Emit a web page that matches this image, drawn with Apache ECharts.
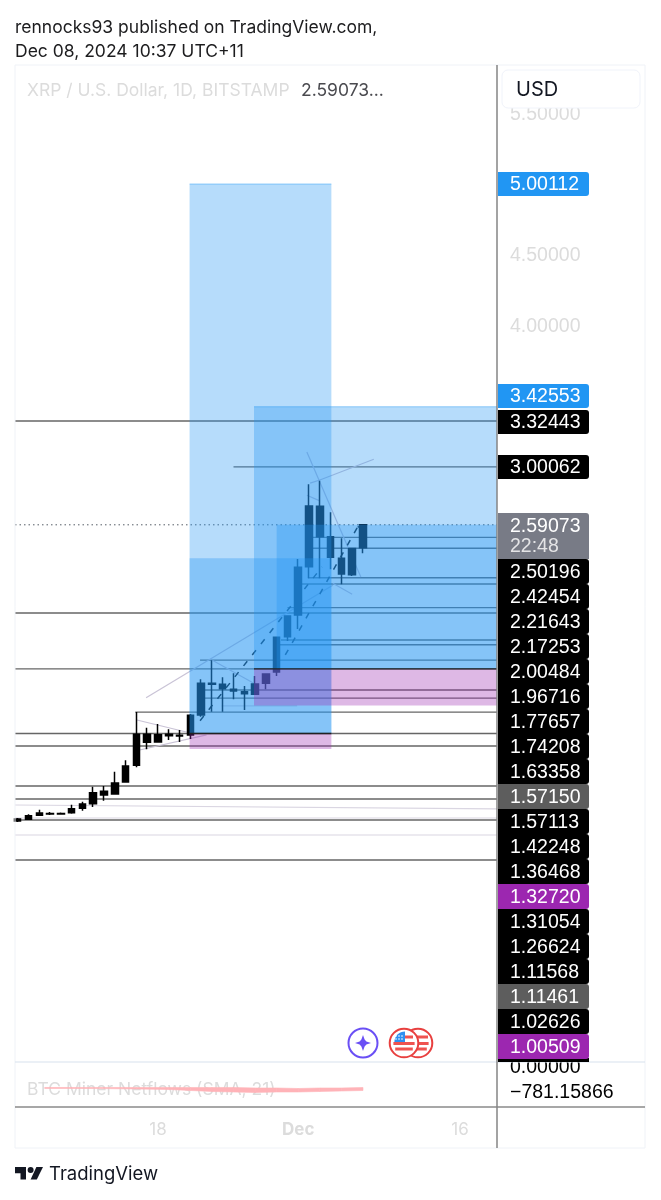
<!DOCTYPE html>
<html>
<head>
<meta charset="utf-8">
<title>XRP / U.S. Dollar</title>
<script src="https://cdn.jsdelivr.net/npm/echarts@6/dist/echarts.min.js"></script>
<style>
  html, body { margin: 0; padding: 0; background: #fff; }
  #chart { width: 661px; height: 1200px; }
</style>
</head>
<body>
<div id="chart"></div>
<script>
var DAY = 86400000;
var NOV18 = Date.UTC(2024, 10, 18);
function day(n) { return NOV18 + n * DAY; }

// daily candles, day number counted from 18 Nov
var candleDays = [-13,-12,-11,-10,-9,-8,-7,-6,-5,-4,-3,-2,-1,0,1,2,3,4,5,6,7,8,9,10,11,12,13,14,15,16,17,18,19];
var opens  = [0.496,0.508,0.537,0.545,0.545,0.554,0.586,0.618,0.680,0.687,0.772,0.890,1.109,1.054,1.099,1.097,1.104,1.246,1.470,1.463,1.427,1.410,1.392,1.470,1.550,1.799,1.953,2.294,2.507,2.507,2.243,2.238,2.429];
var closes = [0.510,0.533,0.553,0.549,0.549,0.583,0.616,0.696,0.706,0.765,0.885,1.109,1.052,1.106,1.109,1.103,1.243,1.470,1.463,1.432,1.415,1.396,1.465,1.536,1.795,1.946,2.290,2.724,2.722,2.361,2.354,2.424,2.59073];
var lows   = [0.489,0.503,0.531,0.538,0.540,0.547,0.569,0.595,0.640,0.682,0.767,0.876,1.003,1.052,1.069,1.055,1.076,1.234,1.269,1.269,1.357,1.281,1.387,1.427,1.521,1.769,1.854,2.212,2.212,2.276,2.170,2.228,2.390];
var highs  = [0.517,0.543,0.576,0.559,0.556,0.611,0.632,0.738,0.743,0.845,0.925,1.26624,1.156,1.182,1.144,1.139,1.252,1.498,1.63358,1.512,1.540,1.451,1.521,1.540,1.797,1.946,2.349,2.877,2.903,2.679,2.495,2.427,2.59073];

var lastPrice = 2.59073;
var priceTicks = [5.5, 4.5, 4.0];
var timeTicks = [0, 13, 28];
var timeTickNames = ['18', 'Dec', '16'];

// long / short position boxes: day from, price top, day to, price bottom
var blueBoxes = [
  [2.93, 5.00112, 16.07, 1.11461],
  [2.93, 2.354, 16.07, 1.11461],
  [8.9, 3.42553, 31.42, 1.5715],
  [11, 2.59073, 31.42, 1.5715]
];
var pinkBoxes = [
  [2.93, 1.11461, 16.07, 1.00509],
  [8.9, 1.5715, 31.42, 1.312]
];
var boxEdges = [
  [2.93,5.00112,16.07,5.00112],[8.9,3.42553,31.42,3.42553]
];
var strongEdges = [
  [8.9,1.5715,31.42,1.5715],[2.93,1.11461,16.07,1.11461]
];

// drawn levels: day from, price, day to, price
var darkLines = [
  [-13.25,3.32443,31.42,3.32443],[7,3.00062,31.42,3.00062],
  [13.9,2.50196,31.42,2.50196],[13.9,2.42454,31.42,2.42454],[13.9,2.21643,31.42,2.21643],
  [12.9,2.17253,31.42,2.17253],[12,2.00484,31.42,2.00484],[-13.25,1.96716,31.42,1.96716],
  [11.4,1.77657,31.42,1.77657],[11.3,1.74208,31.42,1.74208],[3.9,1.63358,31.42,1.63358],
  [-13.25,1.5715,31.42,1.5715],[3.9,1.42248,31.42,1.42248],[3.9,1.36468,31.42,1.36468],
  [-2.1,1.26624,31.42,1.26624],[-13.25,1.11461,31.42,1.11461],[-13.25,1.02626,31.42,1.02626],
  [-13.25,0.743,31.42,0.743],[-13.25,0.652,31.42,0.652],[-13.25,0.503,31.42,0.503],
  [-13.25,0.22,31.42,0.22]
];
var fadedLines = [
  [-13.25,0.609,31.42,0.581],[-13.25,0.517,31.42,0.517],[-13.25,0.397,31.42,0.397],
  [5.9,1.31054,12.9,1.31054]
];
var trendLines = [
  [-1.1,1.367,16.2,2.163],
  [13.8,3.106,18.8,2.222],
  [14.1,2.886,15,2.908],[15,2.908,20,3.054],
  [13.8,2.80,15,2.76],
  [16.2,2.177,18,2.10],
  [5,1.635,8.8,1.473],
  [-1.95,1.21,3,1.118],
  [-1.7,0.998,4.5,1.105]
];
var dashedLines = [
  [3.9,1.205,15.2,2.293],
  [11.8,1.67,18.5,2.575],
  [18.5,2.575,19.3,2.58]
];

// BTC miner netflows, sampled: day, upper edge, band thickness
var netDays  = [-10.5,-8,-5,-2,1,3,5,7,9,11,13,15,17,19];
var netUpper = [-640,-640,-640,-640,-640,-640,-640,-640,-656,-656,-672,-656,-656,-640];
var netBand  = [-30,-30,-35,-47,-62,-94,-125,-141,-141,-125,-109,-109,-94,-94];
var netLabels = [0, -781.15866];

// labels stacked on the price scale
var tagsHigh = ['5.00112','3.42553','3.32443','3.00062'];
var tagsStack = ['2.50196','2.42454','2.21643','2.17253','2.00484','1.96716','1.77657','1.74208','1.63358','1.57150','1.57113','1.42248','1.36468','1.32720','1.31054','1.26624','1.11568','1.11461','1.02626','1.00509'];

var myChart = echarts.init(document.getElementById('chart'), null, { renderer: 'canvas' });
var FONT = 'Inter, "Liberation Sans", sans-serif';
var NUMFONT = '"Liberation Sans", Arial, sans-serif';

function segSeries(data, style, z) {
  return {
    type: 'custom', xAxisIndex: 0, yAxisIndex: 0, z: z, silent: true,
    encode: { x: [0, 2], y: [1, 3] },
    data: data.map(function (s) { return [day(s[0]), s[1], day(s[2]), s[3]]; }),
    renderItem: function (params, api) {
      var a = api.coord([api.value(0), api.value(1)]);
      var b = api.coord([api.value(2), api.value(3)]);
      return { type: 'line', shape: { x1: a[0], y1: a[1], x2: b[0], y2: b[1] }, style: style };
    }
  };
}
function boxSeries(data, fill, z) {
  return {
    type: 'custom', xAxisIndex: 0, yAxisIndex: 0, z: z, silent: true,
    encode: { x: [0, 2], y: [1, 3] },
    data: data.map(function (s) { return [day(s[0]), s[1], day(s[2]), s[3]]; }),
    renderItem: function (params, api) {
      var a = api.coord([api.value(0), api.value(1)]);
      var b = api.coord([api.value(2), api.value(3)]);
      return { type: 'rect', shape: { x: a[0], y: a[1], width: b[0] - a[0], height: b[1] - a[1] }, style: { fill: fill } };
    }
  };
}

// price tags right of the chart
function tag(top, h, txt, fill, extra) {
  var out = [{
    type: 'rect', z: 50, silent: true,
    shape: { x: 498, y: top, width: 91, height: h, r: extra && extra.r !== undefined ? extra.r : [0, 3, 3, 0] },
    style: { fill: fill }
  }];
  if (txt) out.push({
    type: 'text', z: 51, silent: true, x: 510, y: top + h / 2 + 1,
    style: { text: txt, fill: '#fff', font: '19.5px ' + NUMFONT, verticalAlign: 'middle' }
  });
  return out;
}
var graphics = [];
// frame
graphics.push({ type: 'rect', z: 40, silent: true, shape: { x: 15, y: 65, width: 630, height: 1083 }, style: { fill: 'none', stroke: '#eff2f7', lineWidth: 1 } });
graphics.push({ type: 'line', z: 41, silent: true, shape: { x1: 15, y1: 1062, x2: 645, y2: 1062 }, style: { stroke: '#d8e1ee', lineWidth: 1.2 } });
graphics.push({ type: 'line', z: 41, silent: true, shape: { x1: 15, y1: 1107, x2: 645, y2: 1107 }, style: { stroke: '#8a8a8a', lineWidth: 1.5 } });
graphics.push({ type: 'line', z: 41, silent: true, shape: { x1: 497, y1: 65, x2: 497, y2: 1148 }, style: { stroke: '#858585', lineWidth: 1.5 } });

// header + legend
graphics.push({ type: 'text', silent: true, x: 15, y: 28, style: { text: 'rennocks93 published on TradingView.com,', fill: '#1c1c1e', font: '17.5px ' + FONT, verticalAlign: 'middle' } });
graphics.push({ type: 'text', silent: true, x: 15, y: 52, style: { text: 'Dec 08, 2024 10:37 UTC+11', fill: '#1c1c1e', font: '17.5px ' + FONT, verticalAlign: 'middle' } });
graphics.push({ type: 'text', silent: true, x: 27, y: 91, style: { text: 'XRP / U.S. Dollar, 1D, BITSTAMP', fill: '#dcdcdc', font: '17.5px ' + FONT, verticalAlign: 'middle' } });
graphics.push({ type: 'text', silent: true, x: 301, y: 91, style: { text: '2.59073...', fill: '#4a4a4f', font: '17.5px ' + FONT, verticalAlign: 'middle' } });
graphics.push({ type: 'text', silent: true, x: 27, y: 1090, style: { text: 'BTC Miner Netflows (SMA, 21)', fill: '#dcdcdc', font: '17.5px ' + FONT, verticalAlign: 'middle' } });

// USD button
graphics.push({ type: 'rect', z: 45, silent: true, shape: { x: 502, y: 70, width: 138, height: 38, r: 6 }, style: { fill: '#fff', stroke: '#f0f3fa', lineWidth: 1 } });
graphics.push({ type: 'text', z: 46, silent: true, x: 516, y: 90, style: { text: 'USD', fill: '#131722', font: '20px ' + FONT, verticalAlign: 'middle' } });

// tags
var BLUE = '#2196f3', BLACK = '#000', GREY = '#787b86', DGREY = '#5d5d5d', PURPLE = '#9c27b0';
graphics = graphics.concat(tag(172, 24, tagsHigh[0], BLUE));
graphics = graphics.concat(tag(384, 24, tagsHigh[1], BLUE));
graphics = graphics.concat(tag(410, 24, tagsHigh[2], BLACK));
graphics = graphics.concat(tag(455, 24, tagsHigh[3], BLACK));
graphics = graphics.concat(tag(513, 46, null, GREY, { r: [0, 3, 0, 0] }));
graphics.push({ type: 'text', z: 51, silent: true, x: 510, y: 526.5, style: { text: '2.59073', fill: '#fff', font: '19.5px ' + NUMFONT, verticalAlign: 'middle' } });
graphics.push({ type: 'text', z: 51, silent: true, x: 510, y: 546.5, style: { text: '22:48', fill: '#e4e4e6', font: '19.5px ' + NUMFONT, verticalAlign: 'middle' } });
tagsStack.forEach(function (t, i) {
  var fill = BLACK;
  if (t === '1.57150' || t === '1.11461') fill = DGREY;
  if (t === '1.32720' || t === '1.00509') fill = PURPLE;
  graphics = graphics.concat(tag(559 + i * 25, 25, t, fill));
});
graphics.push({ type: 'rect', z: 49, silent: true, shape: { x: 498, y: 1058, width: 91, height: 4 }, style: { fill: BLACK } });

// star icon
graphics.push({ type: 'circle', z: 30, silent: true, shape: { cx: 363, cy: 1043, r: 14.5 }, style: { fill: '#fff', stroke: '#6a4ff5', lineWidth: 2 } });
graphics.push({
  type: 'polygon', z: 31, silent: true,
  shape: { points: [[363, 1035], [364.6, 1039.6], [366.4, 1041.4], [371, 1043], [366.4, 1044.6], [364.6, 1046.4], [363, 1051], [361.4, 1046.4], [359.6, 1044.6], [355, 1043], [359.6, 1041.4], [361.4, 1039.6]] },
  style: { fill: '#6a4ff5' }
});

// flag coins
function flagCoin(cx, front) {
  var cy = 1043;
  var r = 14.3, g = [];
  g.push({ type: 'circle', z: front ? 34 : 32, silent: true, shape: { cx: cx, cy: cy, r: r }, style: { fill: '#fff', stroke: '#e8403f', lineWidth: 2 } });
  [[0.5, 10.6], [6, 8.8]].forEach(function (s) {
    g.push({ type: 'line', z: front ? 35 : 33, silent: true, shape: { x1: cx - s[1], y1: cy + s[0], x2: cx + s[1], y2: cy + s[0] }, style: { stroke: '#ef5350', lineWidth: 3 } });
  });
  if (!front) g.push({ type: 'line', z: 33, silent: true, shape: { x1: cx - 10, y1: cy - 6, x2: cx + 10, y2: cy - 6 }, style: { stroke: '#ef5350', lineWidth: 3 } });
  if (front) {
    g.push({ type: 'line', z: 35, silent: true, shape: { x1: cx, y1: cy - 6, x2: cx + 9, y2: cy - 6 }, style: { stroke: '#ef5350', lineWidth: 3 } });
    g.push({ type: 'sector', z: 36, silent: true, shape: { cx: cx + 1, cy: cy - 1, r: 10.6, startAngle: Math.PI, endAngle: Math.PI * 1.5 }, style: { fill: '#2f8ff0' } });
    [-8, -5, -2].forEach(function (dx) {
      [-7, -4].forEach(function (dy) {
        g.push({ type: 'circle', z: 37, silent: true, shape: { cx: cx + dx, cy: cy + dy, r: 0.8 }, style: { fill: '#fff' } });
      });
    });
  }
  return g;
}
graphics = graphics.concat(flagCoin(418, false)).concat(flagCoin(404, true));

// TradingView logo
graphics.push({ type: 'polygon', silent: true, shape: { points: [[15, 1167], [26, 1167], [26, 1179.5], [20.5, 1179.5], [20.5, 1173.2], [15, 1173.2]] }, style: { fill: '#131722' } });
graphics.push({ type: 'polygon', silent: true, shape: { points: [[36.8, 1179.5], [30.6, 1179.5], [36.4, 1167], [43, 1167]] }, style: { fill: '#131722' } });
graphics.push({ type: 'circle', silent: true, shape: { cx: 30.6, cy: 1170.1, r: 3 }, style: { fill: '#131722' } });
graphics.push({ type: 'text', silent: true, x: 49, y: 1174, style: { text: 'TradingView', fill: '#131722', font: '18.5px ' + FONT, verticalAlign: 'middle' } });

var candleData = candleDays.map(function (d, i) {
  return [day(d), opens[i], closes[i], lows[i], highs[i]];
});

// band between two sampled edges, one quad per sample step
var netSegments = netDays.slice(1).map(function (d, i) {
  return [netDays[i], netUpper[i], netBand[i], d, netUpper[i + 1], netBand[i + 1]];
});

myChart.setOption({
  animation: false,
  useUTC: true,
  backgroundColor: '#fff',
  tooltip: { show: false },
  grid: [
    { left: 15, width: 482, top: 65, height: 997 },
    { left: 15, width: 482, top: 1062, height: 45 }
  ],
  xAxis: [
    {
      type: 'time', gridIndex: 0, min: day(-13.25), max: day(31.42),
      axisLine: { show: false }, axisTick: { show: false }, axisLabel: { show: false }, splitLine: { show: false }
    },
    {
      type: 'value', gridIndex: 1, min: -13.25, max: 31.42,
      axisLine: { show: false }, axisTick: { show: false }, splitLine: { show: false },
      axisLabel: {
        color: '#dcdcdc', fontSize: 17, fontFamily: FONT, margin: 14, hideOverlap: false,
        customValues: timeTicks,
        formatter: function (v) {
          var n = timeTickNames[timeTicks.indexOf(v)];
          return n === 'Dec' ? '{b|Dec}' : n;
        },
        rich: { b: { fontWeight: 'bold', color: '#dcdcdc', fontSize: 17, fontFamily: FONT } }
      }
    }
  ],
  yAxis: [
    {
      type: 'value', gridIndex: 0, position: 'right', min: -1.2086, max: 5.8428,
      axisLine: { show: false }, axisTick: { show: false }, splitLine: { show: false },
      axisLabel: {
        color: '#dcdcdc', fontSize: 19.5, fontFamily: NUMFONT, margin: 13, verticalAlign: 'top', lineHeight: 2,
        customValues: priceTicks,
        formatter: function (v) { return v.toFixed(5); }
      }
    },
    {
      type: 'value', gridIndex: 1, position: 'right', min: -1250, max: 156.25,
      axisLine: { show: false }, axisTick: { show: false }, splitLine: { show: false },
      axisLabel: {
        color: '#000', fontSize: 19.5, fontFamily: NUMFONT, margin: 13, verticalAlign: 'top', lineHeight: 2,
        customValues: netLabels,
        formatter: function (v) { return (v < 0 ? '\u2212' : '') + Math.abs(v).toFixed(5); }
      }
    }
  ],
  graphic: { elements: graphics },
  series: [
    {
      type: 'candlestick', xAxisIndex: 0, yAxisIndex: 0, z: 4, silent: true,
      barWidth: 7,
      encode: { x: 0, y: [1, 2, 3, 4] },
      itemStyle: { color: '#000', color0: '#000', borderColor: '#000', borderColor0: '#000', borderWidth: 1.5 },
      data: candleData
    },
    segSeries(darkLines, { stroke: '#666', lineWidth: 1.4, fill: 'none' }, 3),
    segSeries(fadedLines, { stroke: '#dad6e2', lineWidth: 1.2, fill: 'none' }, 3),
    segSeries(trendLines, { stroke: '#c9c3d6', lineWidth: 1.2, fill: 'none' }, 3),
    segSeries(dashedLines, { stroke: '#111', lineWidth: 1.5, lineDash: [6, 8], fill: 'none' }, 3),
    segSeries([[-13.25, lastPrice, 31.42, lastPrice]], { stroke: '#555c66', lineWidth: 1, lineDash: [1.5, 3], fill: 'none' }, 3),
    boxSeries(blueBoxes, 'rgba(33,150,243,0.33)', 5),
    boxSeries(pinkBoxes, 'rgba(156,39,176,0.33)', 6),
    segSeries(boxEdges, { stroke: 'rgba(33,150,243,0.45)', lineWidth: 1, fill: 'none' }, 7),
    segSeries(strongEdges, { stroke: '#222', lineWidth: 1.3, fill: 'none' }, 7),
    {
      type: 'custom', xAxisIndex: 1, yAxisIndex: 1, z: 8, silent: true,
      encode: { x: [0, 3], y: [1, 4] },
      data: netSegments,
      renderItem: function (params, api) {
        var a = api.coord([api.value(0), api.value(1)]);
        var b = api.coord([api.value(3), api.value(4)]);
        var c = api.coord([api.value(3), api.value(4) + api.value(5)]);
        var d = api.coord([api.value(0), api.value(1) + api.value(2)]);
        return {
          type: 'polygon',
          shape: { points: [a, b, c, d] },
          style: { fill: '#ffb3b8', stroke: '#ffb3b8', lineWidth: 0.6 }
        };
      }
    }
  ]
});
</script>
</body>
</html>
